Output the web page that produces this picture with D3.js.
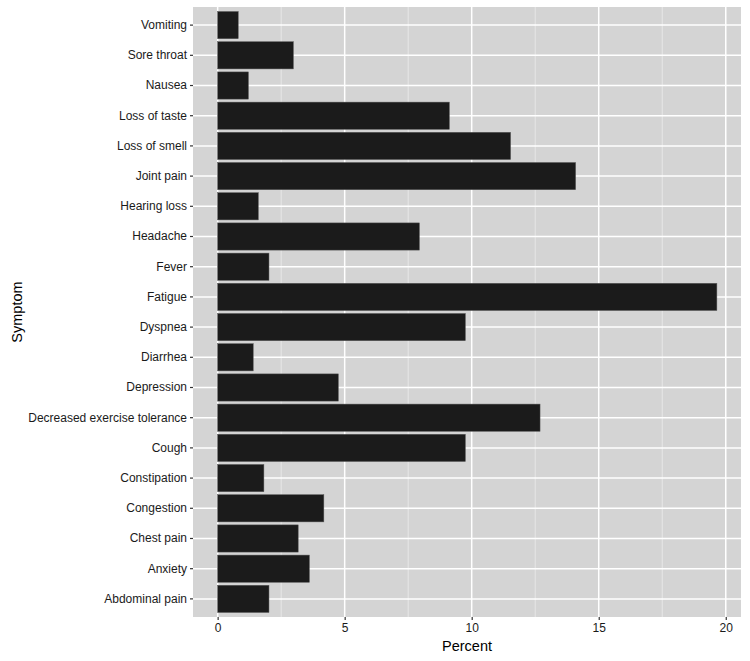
<!DOCTYPE html>
<html><head><meta charset="utf-8">
<script src="https://cdn.jsdelivr.net/npm/d3@7"></script>
<style>body{margin:0;background:#fff}svg{display:block}</style>
</head><body><svg id="c" width="750" height="661"></svg>
<script>
const symptoms = ["Vomiting","Sore throat","Nausea","Loss of taste","Loss of smell","Joint pain","Hearing loss","Headache","Fever","Fatigue","Dyspnea","Diarrhea","Depression","Decreased exercise tolerance","Cough","Constipation","Congestion","Chest pain","Anxiety","Abdominal pain"];
const percents = [0.81,2.98,1.21,9.12,11.53,14.09,1.60,7.94,2.02,19.65,9.75,1.40,4.75,12.69,9.75,1.82,4.18,3.17,3.61,2.02];
const xTicks = [0,5,10,15,20];
const xMinor = [2.5,7.5,12.5,17.5];
const xLabel = "Percent", yLabel = "Symptom";

const svg = d3.select("#c");
const L = 193, R = 741, T = 7, B = 617;
const x = d3.scaleLinear().domain([-0.97, 20.6]).range([L, R]);
const y = d3.scaleBand().domain(symptoms).range([T, B]).paddingInner(0.1).paddingOuter(0.15);
const yc = d => y(d) + y.bandwidth()/2;

svg.append("rect").attr("x", L).attr("y", T).attr("width", R-L).attr("height", B-T).attr("fill", "#d4d4d4");
const g = svg.append("g");
g.selectAll(".mn").data(xMinor).join("line").attr("x1", x).attr("x2", x).attr("y1", T).attr("y2", B).attr("stroke", "#ececec").attr("stroke-width", 0.8);
g.selectAll(".mj").data(xTicks).join("line").attr("x1", x).attr("x2", x).attr("y1", T).attr("y2", B).attr("stroke", "#fff").attr("stroke-width", 1.5);
g.selectAll(".hy").data(symptoms).join("line").attr("x1", L).attr("x2", R).attr("y1", yc).attr("y2", yc).attr("stroke", "#fff").attr("stroke-width", 1.5);

svg.selectAll(".bar").data(symptoms).join("rect")
  .attr("x", x(0)).attr("y", d => y(d))
  .attr("width", (d,i) => x(percents[i]) - x(0)).attr("height", y.bandwidth())
  .attr("fill", "#1b1b1b").attr("stroke", "#555").attr("stroke-width", 0.5);

const xa = svg.append("g").attr("transform", `translate(0,${B})`)
  .call(d3.axisBottom(x).tickValues(xTicks).tickSize(3).tickPadding(3).tickFormat(d3.format("d")));
const ya = svg.append("g").attr("transform", `translate(${L},0)`)
  .call(d3.axisLeft(y).tickSize(3).tickPadding(3));
[xa, ya].forEach(a => {
  a.select(".domain").remove();
  a.selectAll("line").attr("stroke", "#333").attr("stroke-width", 1.2);
  a.selectAll("text").attr("fill", "#1a1a1a").attr("font-family", "Liberation Sans, Arial, sans-serif").attr("font-size", 12);
});

svg.append("text").attr("x", (L+R)/2).attr("y", 651).attr("text-anchor", "middle")
  .attr("font-family", "Liberation Sans, Arial, sans-serif").attr("font-size", 14.5).attr("fill", "#000").text(xLabel);
svg.append("text").attr("transform", `translate(22,${(T+B)/2}) rotate(-90)`).attr("text-anchor", "middle")
  .attr("font-family", "Liberation Sans, Arial, sans-serif").attr("font-size", 14.5).attr("fill", "#000").text(yLabel);
</script></body></html>
